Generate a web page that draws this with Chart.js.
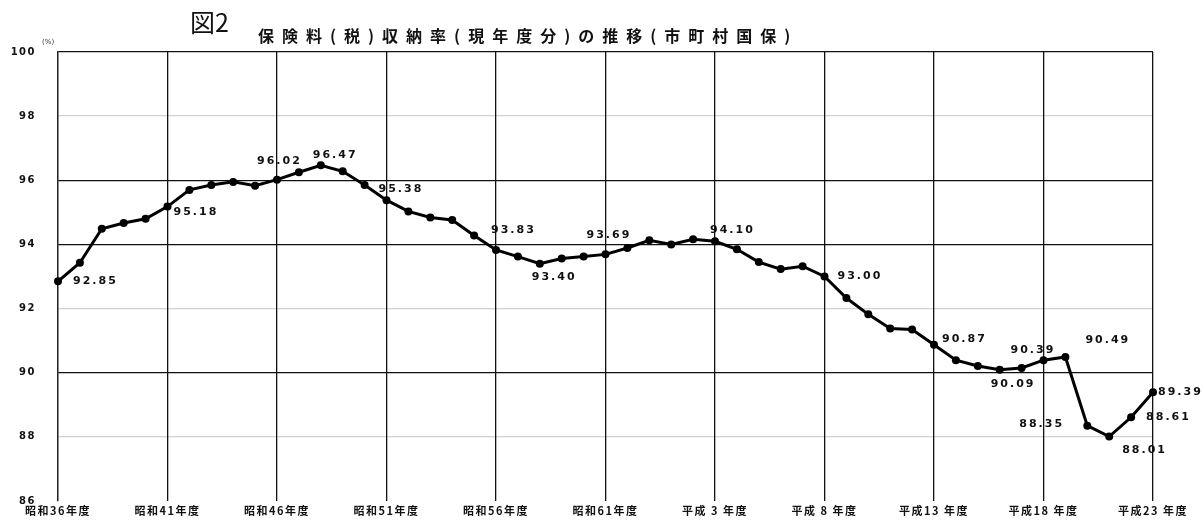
<!DOCTYPE html>
<html lang="ja">
<head>
<meta charset="utf-8">
<title>保険料(税)収納率(現年度分)の推移(市町村国保)</title>
<script src="https://cdn.jsdelivr.net/npm/chart.js@4.4.1/dist/chart.umd.min.js"></script>
<style>
  html, body { margin: 0; padding: 0; background: #fff; }
  #wrap { position: relative; width: 1204px; height: 529px; overflow: hidden; }
  #fig { position: absolute; left: 190px; top: 9px; font: 25px/1 "Noto Sans CJK JP"; color: #111; }
  #title { position: absolute; left: 258px; top: 27px; font: bold 16px/1 "Noto Sans CJK JP"; letter-spacing: 8px; color: #111; white-space: nowrap; }
  #unit { position: absolute; left: 42px; top: 39px; font: 7px/1 "DejaVu Sans"; color: #333; }
  #chart { position: absolute; left: 0; top: 0; }
</style>
</head>
<body>
<div id="wrap">
  <canvas id="chart" width="1204" height="529"></canvas>
  <div id="fig">図2</div>
  <div id="title">保険料(税)収納率(現年度分)の推移(市町村国保)</div>
  <div id="unit">(%)</div>
</div>
<script>
(() => {
    // 年度（昭和36年度〜平成23年度）
    const fiscalYears = [
        '昭和36年度', '昭和37年度', '昭和38年度', '昭和39年度', '昭和40年度',
        '昭和41年度', '昭和42年度', '昭和43年度', '昭和44年度', '昭和45年度',
        '昭和46年度', '昭和47年度', '昭和48年度', '昭和49年度', '昭和50年度',
        '昭和51年度', '昭和52年度', '昭和53年度', '昭和54年度', '昭和55年度',
        '昭和56年度', '昭和57年度', '昭和58年度', '昭和59年度', '昭和60年度',
        '昭和61年度', '昭和62年度', '昭和63年度', '平成元年度', '平成2年度',
        '平成3年度', '平成4年度', '平成5年度', '平成6年度', '平成7年度',
        '平成8年度', '平成9年度', '平成10年度', '平成11年度', '平成12年度',
        '平成13年度', '平成14年度', '平成15年度', '平成16年度', '平成17年度',
        '平成18年度', '平成19年度', '平成20年度', '平成21年度', '平成22年度',
        '平成23年度'
    ];

    // 収納率（%）
    const rates = [
        92.85, 93.43, 94.49, 94.67, 94.80,
        95.18, 95.70, 95.85, 95.95, 95.83,
        96.02, 96.25, 96.47, 96.28, 95.85,
        95.38, 95.03, 94.84, 94.76, 94.28,
        93.83, 93.62, 93.40, 93.56, 93.62,
        93.69, 93.89, 94.13, 94.00, 94.16,
        94.10, 93.85, 93.45, 93.23, 93.32,
        93.00, 92.33, 91.82, 91.38, 91.35,
        90.87, 90.39, 90.21, 90.09, 90.15,
        90.39, 90.49, 88.35, 88.01, 88.61,
        89.39
    ];

    // 軸ラベル（5年毎）
    const tickLabels = [
        '昭和36年度', '昭和41年度', '昭和46年度', '昭和51年度', '昭和56年度',
        '昭和61年度', '平成 3 年度', '平成 8 年度', '平成13 年度', '平成18 年度',
        '平成23 年度'
    ];

    // 数値を表示する年度
    const labelledYears = [
        '昭和36年度', '昭和41年度', '昭和46年度', '昭和48年度', '昭和51年度',
        '昭和56年度', '昭和58年度', '昭和61年度', '平成3年度', '平成8年度',
        '平成13年度', '平成16年度', '平成18年度', '平成19年度', '平成20年度',
        '平成21年度', '平成22年度', '平成23年度'
    ];

    const Y_MIN = 86;
    const Y_MAX = 100;
    const Y_STEP = 2;
    const SOLID_LINES = [100, 96, 94, 90];

    // 数値ラベルの位置調整（点からのずれ, px）
    const labelOffset = {
        '昭和36年度': [15, 0], '昭和41年度': [6, 6], '昭和46年度': [-20, -19],
        '昭和48年度': [-8, -10], '昭和51年度': [-8, -11], '昭和56年度': [-5, -20],
        '昭和58年度': [-8, 13], '昭和61年度': [-19, -19], '平成3年度': [-5, -11],
        '平成8年度': [13, 0], '平成13年度': [8, -6], '平成16年度': [-9, 14],
        '平成18年度': [-33, -10], '平成19年度': [20, -17], '平成20年度': [-68, -1],
        '平成21年度': [13, 14], '平成22年度': [15, 0], '平成23年度': [5, 0]
    };

    // 文字間隔（スキャン風のゆったりした字送り）
    const textSpacing = {
        id: 'textSpacing',
        beforeDraw(chart) { chart.ctx.letterSpacing = '1.5px'; },
        afterDraw(chart) { chart.ctx.letterSpacing = '0px'; }
    };

    // 数値ラベル描画プラグイン
    const valueLabels = {
        id: 'valueLabels',
        afterDatasetsDraw(chart) {
            const ctx = chart.ctx;
            const meta = chart.getDatasetMeta(0);
            ctx.save();
            ctx.font = 'bold 11px "DejaVu Sans"';
            ctx.letterSpacing = '2px';
            ctx.fillStyle = '#111';
            ctx.textAlign = 'left';
            ctx.textBaseline = 'middle';
            labelledYears.forEach(year => {
                const i = fiscalYears.indexOf(year);
                const pt = meta.data[i];
                const [dx, dy] = labelOffset[year];
                ctx.fillText(rates[i].toFixed(2), pt.x + dx, pt.y + dy);
            });
            ctx.restore();
        }
    };

    new Chart(document.getElementById('chart'), {
        type: 'line',
        data: {
            labels: fiscalYears,
            datasets: [{
                data: rates,
                borderColor: '#000',
                borderWidth: 3,
                backgroundColor: '#000',
                pointRadius: 4,
                pointBorderWidth: 0,
                tension: 0
            }]
        },
        options: {
            responsive: false,
            animation: false,
            layout: { padding: { top: 52, right: 51, bottom: 0, left: 0 } },
            plugins: {
                legend: { display: false },
                tooltip: { enabled: false }
            },
            scales: {
                x: {
                    offset: false,
                    border: { display: false },
                    grid: {
                        drawTicks: false,
                        lineWidth: 1.3,
                        color: c => (c.index % 5 === 0 ? '#111' : 'rgba(0,0,0,0)')
                    },
                    ticks: {
                        autoSkip: false,
                        maxRotation: 0,
                        padding: 3,
                        color: '#111',
                        font: { family: '"Noto Sans CJK JP"', size: 11, weight: 'bold' },
                        callback: (v, i) => (i % 5 === 0 ? tickLabels[i / 5] : '')
                    },
                    afterFit: s => { s.height = 15; }
                },
                y: {
                    min: Y_MIN,
                    max: Y_MAX,
                    border: { display: true, color: '#222', width: 1.3 },
                    grid: {
                        drawTicks: false,
                        lineWidth: 1.3,
                        color: c => {
                            const v = c.tick && c.tick.value;
                            if (SOLID_LINES.includes(v)) return '#111';
                            if (v === Y_MIN) return 'rgba(0,0,0,0)';
                            return 'rgba(0,0,0,0.18)';
                        }
                    },
                    ticks: {
                        stepSize: Y_STEP,
                        padding: 22,
                        color: '#111',
                        font: { family: '"DejaVu Sans"', size: 10, weight: 'bold' }
                    },
                    afterFit: s => { s.width = 58; }
                }
            }
        },
        plugins: [textSpacing, valueLabels]
    });
})();
</script>
</body>
</html>
